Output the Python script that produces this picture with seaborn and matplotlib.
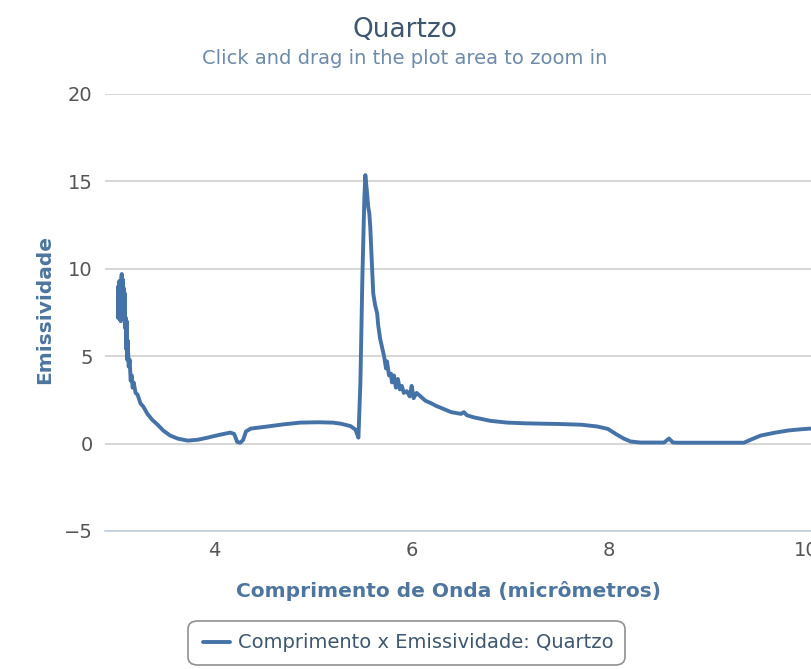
import pandas as pd
import matplotlib.pyplot as plt
import seaborn as sns
from matplotlib.patches import FancyBboxPatch

# wavelength (micrometres) and emissivity
wavelength = [3.02, 3.025, 3.03, 3.035, 3.04, 3.045, 3.05, 3.055, 3.06, 3.065,
              3.07, 3.075, 3.08, 3.085, 3.09, 3.095, 3.10, 3.105, 3.11, 3.115,
              3.12, 3.13, 3.14, 3.15, 3.16, 3.17, 3.18, 3.20, 3.22, 3.25,
              3.28, 3.32, 3.37, 3.42, 3.48, 3.55, 3.63, 3.73, 3.83, 3.93,
              4.05, 4.16, 4.20, 4.23, 4.26, 4.29, 4.32, 4.37, 4.50, 4.70,
              4.87, 5.05, 5.20, 5.28, 5.38, 5.43, 5.46, 5.48, 5.50, 5.52,
              5.53, 5.545, 5.56, 5.57, 5.58, 5.595, 5.61, 5.63, 5.65, 5.66,
              5.68, 5.70, 5.72, 5.74, 5.75, 5.77, 5.79, 5.80, 5.82, 5.84,
              5.86, 5.88, 5.90, 5.92, 5.95, 5.98, 6.00, 6.02, 6.05, 6.09,
              6.14, 6.20, 6.25, 6.29, 6.40, 6.50, 6.53, 6.56, 6.63, 6.80,
              6.97, 7.15, 7.31, 7.50, 7.72, 7.88, 7.99, 8.07, 8.15, 8.22,
              8.32, 8.56, 8.61, 8.65, 8.70, 9.37, 9.45, 9.54, 9.68, 9.82,
              9.95, 10.10]
emissividade = [7.2, 9.0, 7.3, 9.3, 7.1, 9.2, 7.0, 9.5, 9.7, 8.0,
                9.4, 7.3, 8.9, 7.2, 8.6, 6.6, 7.2, 5.4, 7.0, 4.8,
                5.9, 4.4, 4.8, 3.6, 3.9, 3.2, 3.5, 2.9, 2.8, 2.3,
                2.1, 1.7, 1.35, 1.1, 0.75, 0.46, 0.28, 0.17, 0.22, 0.34,
                0.5, 0.63, 0.55, 0.1, 0.05, 0.2, 0.7, 0.86, 0.95, 1.1,
                1.2, 1.22, 1.2, 1.14, 1.0, 0.8, 0.34, 3.5, 9.5, 14.0,
                15.36, 14.5, 13.5, 13.2, 12.4, 10.5, 8.6, 7.9, 7.45, 6.8,
                6.0, 5.5, 5.0, 4.3, 4.7, 3.9, 4.0, 3.5, 3.9, 3.2,
                3.7, 3.1, 3.3, 2.9, 3.0, 2.7, 3.3, 2.6, 2.9, 2.7,
                2.45, 2.3, 2.15, 2.06, 1.8, 1.7, 1.8, 1.62, 1.5, 1.3,
                1.2, 1.16, 1.14, 1.12, 1.08, 0.98, 0.84, 0.55, 0.29, 0.12,
                0.06, 0.06, 0.29, 0.06, 0.05, 0.05, 0.25, 0.46, 0.62, 0.75,
                0.82, 0.88]

x_ticks = [4, 6, 8, 10]
y_ticks = [-5, 0, 5, 10, 15, 20]

df = pd.DataFrame({'comprimento': wavelength, 'emissividade': emissividade})

sns.set_style('white')
plt.rcParams['font.family'] = ['DejaVu Sans']

fig = plt.figure(figsize=(8.11, 6.69), dpi=100)
ax = fig.add_axes([0.1295, 0.2063, 0.8705, 0.6532])

sns.lineplot(data=df, x='comprimento', y='emissividade', ax=ax,
             color='#4572A7', linewidth=2.8, sort=False)

ax.set_xlim(2.89, 10.05)
ax.set_ylim(-5, 20)
ax.set_xticks(x_ticks)
ax.set_yticks(y_ticks)
ax.set_yticklabels(['\u22125', '0', '5', '10', '15', '20'])
ax.grid(axis='y', color='#D0D0D0', linewidth=1.2)
ax.set_axisbelow(True)
for side in ['top', 'right', 'left']:
    ax.spines[side].set_visible(False)
ax.spines['bottom'].set_color('#C0D0E0')
ax.spines['bottom'].set_linewidth(1.2)
ax.tick_params(axis='x', colors='#C0D0E0', length=6, width=1.2,
               labelcolor='#555555', labelsize=14, pad=1)
ax.tick_params(axis='y', length=0, labelcolor='#555555', labelsize=14, pad=9)
ax.set_xlabel('')
ax.set_ylabel('')

fig.text(0.499, 0.955, 'Quartzo', ha='center', va='center',
         fontsize=19, color='#3E576F')
fig.text(0.499, 0.913, 'Click and drag in the plot area to zoom in',
         ha='center', va='center', fontsize=14, color='#6D8BAA')
fig.text(0.055, 0.537, 'Emissividade', ha='center', va='center',
         rotation=90, fontsize=14.5, fontweight='bold', color='#4D759E')
fig.text(0.553, 0.117, 'Comprimento de Onda (micrômetros)', ha='center',
         va='center', fontsize=14.5, fontweight='bold', color='#4D759E')

# legend box
box = FancyBboxPatch((188 / 811, 1 - 665 / 669), 437 / 811, 44 / 669,
                     boxstyle='round,pad=0,rounding_size=0.012',
                     transform=fig.transFigure, facecolor='white',
                     edgecolor='#909090', linewidth=1.2)
fig.patches.append(box)
fig.lines.append(plt.Line2D([203 / 811, 230 / 811], [0.040, 0.040],
                            transform=fig.transFigure, color='#4572A7',
                            linewidth=2.8))
fig.text(238 / 811, 0.040, 'Comprimento x Emissividade: Quartzo',
         ha='left', va='center', fontsize=14, color='#3E576F')

fig.savefig('out.png', dpi=100)
